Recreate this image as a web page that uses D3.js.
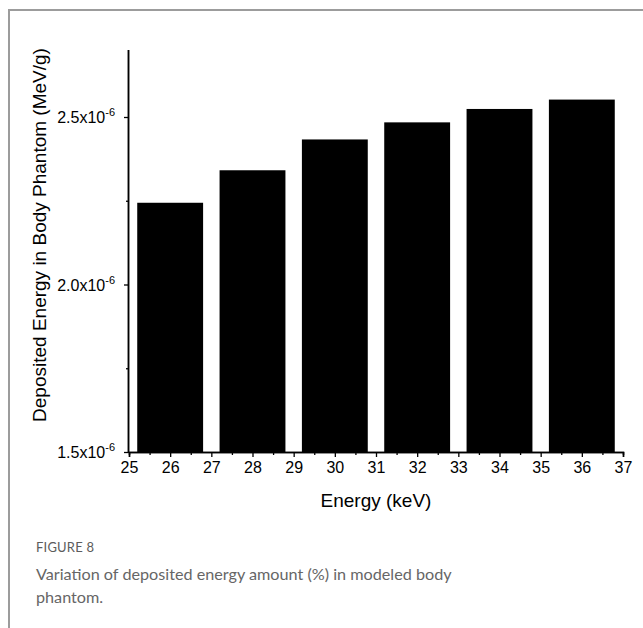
<!DOCTYPE html>
<html><head><meta charset="utf-8">
<script src="https://cdn.jsdelivr.net/npm/d3@7"></script>
<style>body{margin:0;background:#fff}svg{display:block}</style>
</head><body>
<script>
const energies = [26, 28, 30, 32, 34, 36];
const deposited = [2.244e-6, 2.341e-6, 2.433e-6, 2.484e-6, 2.524e-6, 2.552e-6];
const xTicks = [25,26,27,28,29,30,31,32,33,34,35,36,37];
const yTicks = [1.5e-6, 2.0e-6, 2.5e-6];
const yMinorTicks = [1.75e-6, 2.25e-6];
const yTickMantissa = ["1.5", "2.0", "2.5"];
const xLabel = "Energy (keV)";
const yLabel = "Deposited Energy in Body Phantom (MeV/g)";
const figLabel = "FIGURE 8";
const captionLines = ["Variation of deposited energy amount (%) in modeled body", "phantom."];

const W = 643, H = 628;
const svg = d3.select("body").append("svg").attr("width", W).attr("height", H);

// frame
svg.append("path").attr("d", `M9,${H} L9,10 L${W},10`).attr("fill","none").attr("stroke","#9c9c9c").attr("stroke-width",2);

const x = d3.scaleLinear().domain([25, 37]).range([129, 623]);
const y = d3.scaleLinear().domain([1.5e-6, 2.7e-6]).range([452, 50]);
const barW = 1.6;

svg.append("g").selectAll("rect").data(energies).join("rect")
  .attr("x", d => x(d - barW/2)).attr("width", d => x(d + barW/2) - x(d - barW/2))
  .attr("y", (d,i) => y(deposited[i])).attr("height", (d,i) => y(1.5e-6) - y(deposited[i]))
  .attr("fill", "#000");

const font = "Liberation Sans, Arial, sans-serif";

// x axis
const gx = svg.append("g").attr("transform", "translate(0,452)");
gx.call(d3.axisBottom(x).tickValues(xTicks).tickSize(5).tickFormat(d3.format("d")));
gx.append("g").call(d3.axisBottom(x).tickValues(xTicks.slice(0,-1).map(d=>d+0.5)).tickSize(3).tickFormat(""));
gx.selectAll(".domain").attr("stroke-width", 1.5);
gx.selectAll("line").attr("stroke-width", 1.3);
gx.selectAll("text").attr("font-family", font).attr("font-size", 16).attr("fill","#000").attr("dy","0.81em");

// y axis
const gy = svg.append("g").attr("transform", "translate(129,0)");
gy.call(d3.axisLeft(y).tickValues(yTicks).tickSize(5).tickFormat(""));
gy.append("g").call(d3.axisLeft(y).tickValues(yMinorTicks).tickSize(3).tickFormat(""));
gy.selectAll(".domain").attr("stroke-width", 1.5).attr("d", `M-0.5,${y(1.5e-6)}V${y(2.7e-6)}`);
gy.selectAll("line").attr("stroke-width", 1.3);

const lbl = svg.append("g").selectAll("text").data(yTicks).join("text")
  .attr("x", 115).attr("y", d => y(d) + 6)
  .attr("text-anchor", "end").attr("font-family", font).attr("font-size", 16).attr("fill","#000");
lbl.append("tspan").text((d,i) => yTickMantissa[i] + "x10");
lbl.append("tspan").attr("dy", -7).attr("font-size", 11).text("-6");

// axis titles
svg.append("text").attr("x", x(31)).attr("y", 507).attr("text-anchor","middle")
  .attr("font-family", font).attr("font-size", 19).text(xLabel);
svg.append("text").attr("transform", "translate(46,235) rotate(-90)").attr("text-anchor","middle")
  .attr("font-family", font).attr("font-size", 19).text(yLabel);

// caption
svg.append("text").attr("x", 36).attr("y", 552).attr("font-family","Lato, Open Sans, sans-serif")
  .attr("font-size", 13).attr("fill", "#5c5c5c").attr("letter-spacing", 0.2).text(figLabel);
svg.append("g").selectAll("text").data(captionLines).join("text")
  .attr("x", 36).attr("y", (d,i) => 580 + i*23)
  .attr("font-family","Lato, Open Sans, sans-serif").attr("font-size", 16.2).attr("fill","#666").text(d => d);
</script>
</body></html>
